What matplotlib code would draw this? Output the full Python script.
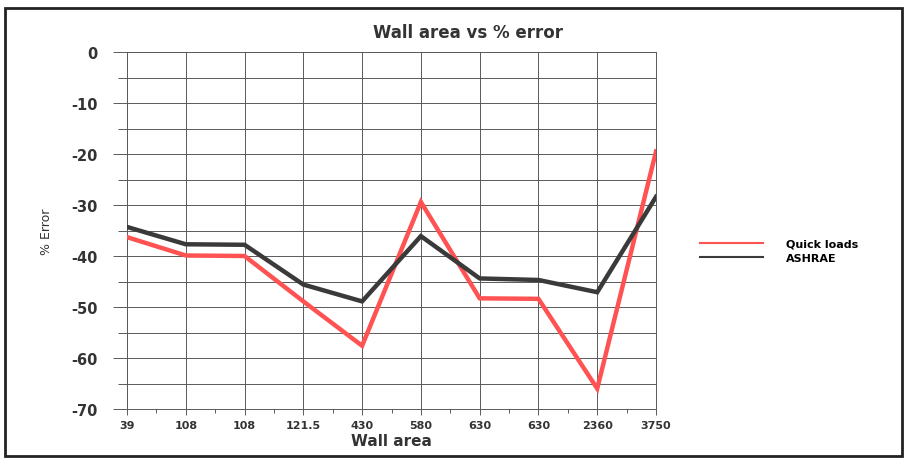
import matplotlib
matplotlib.use("Agg")
import matplotlib.pyplot as plt
from matplotlib.lines import Line2D
from matplotlib.patches import Rectangle
from matplotlib.ticker import MultipleLocator

categories = ["39", "108", "108", "121.5", "430", "580", "630", "630", "2360", "3750"]
quick_loads = [-36.3, -39.9, -40.0, -48.9, -57.6, -29.4, -48.3, -48.4, -66.0, -19.5]
ashrae = [-34.3, -37.7, -37.8, -45.6, -48.9, -36.1, -44.4, -44.7, -47.1, -28.4]

plt.rcParams['font.family'] = ['DejaVu Sans']
plt.rcParams['axes.unicode_minus'] = False

W, H = 905, 460
fig = plt.figure(figsize=(W / 100, H / 100), dpi=100)
ax = fig.add_axes([127 / W, 1 - 410 / H, (656 - 127) / W, (410 - 53) / H])

x = list(range(len(categories)))
red = '#ff5252'
dark = '#3a3a3a'
grid_c = '#5a5a5a'

ax.plot(x, quick_loads, color=red, lw=3.2, solid_joinstyle='miter', zorder=3)
ax.plot(x, ashrae, color=dark, lw=3.2, solid_joinstyle='miter', zorder=3)

ax.set_xlim(0, len(categories) - 1)
ax.set_ylim(-70, 0)
ax.set_xticks(x)
ax.set_xticklabels(categories, fontsize=8, fontweight='bold', color='#333333')
ax.xaxis.set_minor_locator(MultipleLocator(0.5))
ax.yaxis.set_major_locator(MultipleLocator(10))
ax.yaxis.set_minor_locator(MultipleLocator(5))
ax.tick_params(axis='y', which='major', length=10, width=0.7, color=grid_c,
               labelsize=10.5, pad=11, labelcolor='#333333')
ax.tick_params(axis='y', which='minor', length=6.5, width=0.7, color=grid_c)
ax.tick_params(axis='x', which='major', length=4, width=0.7, color=grid_c, pad=4)
ax.tick_params(axis='x', which='minor', length=3, width=0.7, color=grid_c)
for lab in ax.get_yticklabels():
    lab.set_fontweight('bold')

ax.grid(True, which='major', axis='x', color=grid_c, lw=0.7)
ax.grid(True, which='both', axis='y', color=grid_c, lw=0.7)
for s in ax.spines.values():
    s.set_color(grid_c)
    s.set_linewidth(0.7)

ax.set_xlabel("Wall area", fontsize=11, fontweight='bold', color='#333333', labelpad=2)
ax.set_ylabel("% Error", fontsize=9, color='#333333')
ax.yaxis.set_label_coords(-0.14, 0.5)

fig.text(468 / W, 1 - 33 / H, "Wall area vs % error", ha='center', va='center',
         fontsize=12, fontweight='bold', color='#333333')

handles = [Line2D([0], [0], color=red, lw=1.5), Line2D([0], [0], color=dark, lw=1.5)]
fig.legend(handles, ["Quick loads", "ASHRAE"], loc='center left',
           bbox_to_anchor=(690 / W, 1 - 252 / H), frameon=False,
           handlelength=5.7, handletextpad=2.0, labelspacing=0.4,
           prop={'weight': 'bold', 'size': 8})

fig.patches.append(Rectangle((5 / W, 1 - 457 / H), 897 / W, 448 / H, transform=fig.transFigure,
                             fill=False, edgecolor='#222222', lw=2))

fig.savefig("out.png", dpi=100)
